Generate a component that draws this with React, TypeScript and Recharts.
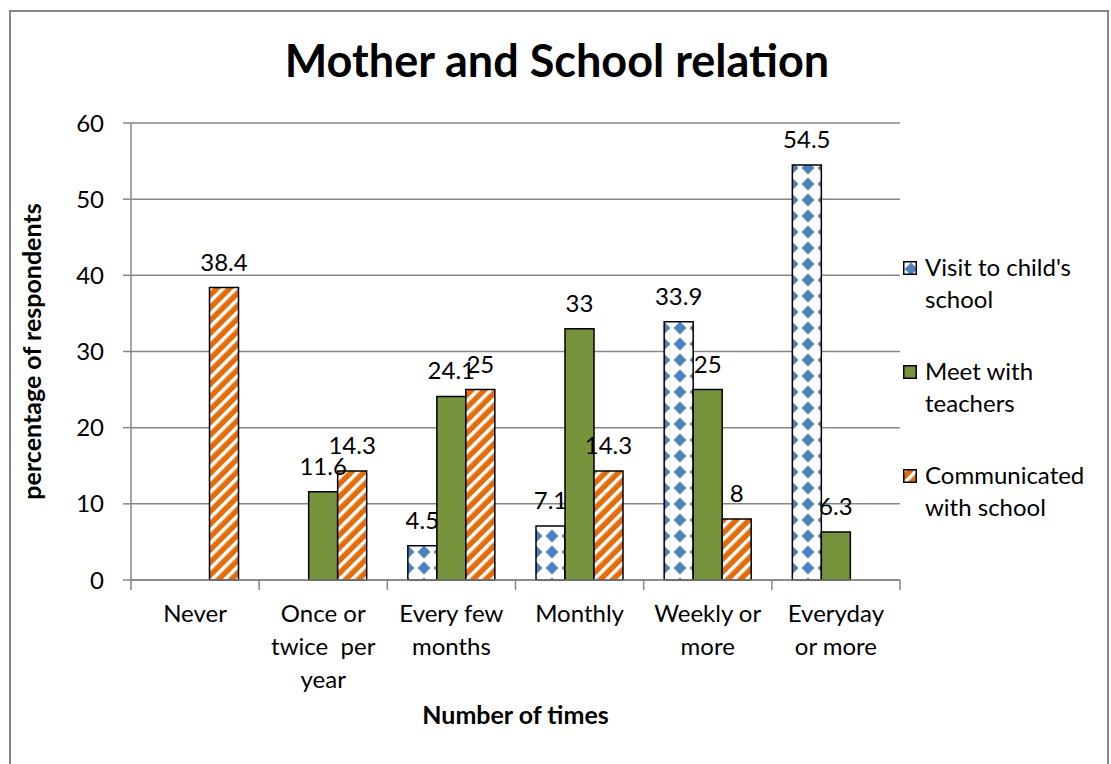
import { Bar, BarChart, CartesianGrid, LabelList, XAxis, YAxis } from 'recharts'

const categories = ['Never', 'Once or\ntwice  per\nyear', 'Every few\nmonths', 'Monthly', 'Weekly or\nmore', 'Everyday\nor more']
const visitSchool = [null, null, 4.5, 7.1, 33.9, 54.5]
const meetTeachers = [null, 11.6, 24.1, 33, 25, 6.3]
const communicated = [38.4, 14.3, 25, 14.3, 8, null]
const yTicks = [0, 10, 20, 30, 40, 50, 60]

const data = categories.map((c, i) => ({
  cat: c,
  visit: visitSchool[i],
  meet: meetTeachers[i],
  comm: communicated[i],
}))

const FONT = 'Lato, "Noto Sans", sans-serif'
const GRAY = '#868686'
const FS = 24

const legendItems = [
  { fill: 'url(#diamonds)', lines: ["Visit to child's", 'school'] },
  { fill: '#77933C', lines: ['Meet with', 'teachers'] },
  { fill: 'url(#stripes)', lines: ['Communicated', 'with school'] },
]

// category label plus tick marks on the category edges (Excel style)
function CatTick(props: any) {
  const { x, y, payload, index } = props
  const half = Number(payload?.offset) || 0
  const lines = String(payload.value).split('\n')
  const last = index === categories.length - 1
  return (
    <g>
      <line x1={x - half} x2={x - half} y1={y} y2={y + 10} stroke={GRAY} strokeWidth={1.5} />
      {last && <line x1={x + half} x2={x + half} y1={y} y2={y + 10} stroke={GRAY} strokeWidth={1.5} />}
      <text x={x} y={y} textAnchor="middle" fontSize={FS} fontFamily={FONT} fill="#000">
        {lines.map((l, i) => (
          <tspan key={i} x={x} dy={i === 0 ? 42 : 33} style={{ whiteSpace: 'pre' }}>
            {l}
          </tspan>
        ))}
      </text>
    </g>
  )
}

export default function App() {
  return (
    <div style={{ position: 'absolute', left: 0, top: 0, width: 1111, height: 764, background: '#fff', fontFamily: FONT }}>
      <svg width={0} height={0} style={{ position: 'absolute' }}>
        <defs>
          <pattern id="diamonds" width={16} height={16} patternUnits="userSpaceOnUse">
            <rect width={16} height={16} fill="#fff" />
            <polygon points="8,1.5 14.5,8 8,14.5 1.5,8" fill="#4F81BD" />
          </pattern>
          <pattern id="stripes" width={9} height={9} patternUnits="userSpaceOnUse" patternTransform="rotate(45)">
            <rect width={9} height={9} fill="#E46C0A" />
            <rect width={3.5} height={9} fill="#fff" />
          </pattern>
        </defs>
      </svg>
      <div style={{ position: 'absolute', left: 9, top: 10, width: 1100, height: 760, border: `2px solid ${GRAY}`, boxSizing: 'border-box' }} />
      <div style={{ position: 'absolute', left: 9, width: 1096, top: 33, textAlign: 'center', fontSize: 45, fontWeight: 'bold' }}>
        Mother and School relation
      </div>
      <BarChart
        width={1111}
        height={764}
        data={data}
        margin={{ top: 123, right: 211, bottom: 34, left: 0 }}
        barCategoryGap="16%"
        barGap={0}
        style={{ position: 'absolute', left: 0, top: 0 }}
      >
        <CartesianGrid vertical={false} stroke={GRAY} strokeWidth={1.5} />
        <XAxis
          dataKey="cat"
          interval={0}
          tick={<CatTick />}
          tickLine={false}
          tickSize={0}
          tickMargin={0}
          axisLine={{ stroke: GRAY, strokeWidth: 1.5 }}
          height={150}
          label={{ value: 'Number of times', position: 'insideBottom', offset: 6, fontSize: 25, fontWeight: 'bold', fill: '#000', fontFamily: FONT }}
        />
        <YAxis
          domain={[0, 60]}
          ticks={yTicks}
          width={131}
          tickSize={8}
          tickMargin={19}
          tick={{ fontSize: FS, fill: '#000', fontFamily: FONT }}
          axisLine={{ stroke: GRAY, strokeWidth: 1.5 }}
          tickLine={{ stroke: GRAY, strokeWidth: 1.5 }}
          label={{ value: 'percentage of respondents', angle: -90, position: 'insideLeft', offset: 32, fontSize: 25, fontWeight: 'bold', fill: '#000', fontFamily: FONT, style: { textAnchor: 'middle' } }}
        />
        <Bar dataKey="visit" fill="url(#diamonds)" stroke="#000" strokeWidth={1.5} isAnimationActive={false}>
          <LabelList dataKey="visit" position="top" offset={17} fontSize={FS} fill="#000" fontFamily={FONT} />
        </Bar>
        <Bar dataKey="meet" fill="#77933C" stroke="#000" strokeWidth={1.5} isAnimationActive={false}>
          <LabelList dataKey="meet" position="top" offset={17} fontSize={FS} fill="#000" fontFamily={FONT} />
        </Bar>
        <Bar dataKey="comm" fill="url(#stripes)" stroke="#000" strokeWidth={1.5} isAnimationActive={false}>
          <LabelList dataKey="comm" position="top" offset={17} fontSize={FS} fill="#000" fontFamily={FONT} />
        </Bar>
      </BarChart>
      <div style={{ position: 'absolute', left: 903, top: 251 }}>
        {legendItems.map((it, i) => (
          <div key={i} style={{ display: 'flex', alignItems: 'flex-start', height: 104 }}>
            <svg width={14} height={14} style={{ marginTop: 10, marginRight: 8, flex: 'none' }}>
              <rect x={0.75} y={0.75} width={12.5} height={12.5} fill={it.fill} stroke="#000" strokeWidth={1.5} />
            </svg>
            <div style={{ fontSize: FS, lineHeight: '32px', whiteSpace: 'nowrap' }}>
              {it.lines.map((l, j) => (
                <div key={j}>{l}</div>
              ))}
            </div>
          </div>
        ))}
      </div>
    </div>
  )
}
